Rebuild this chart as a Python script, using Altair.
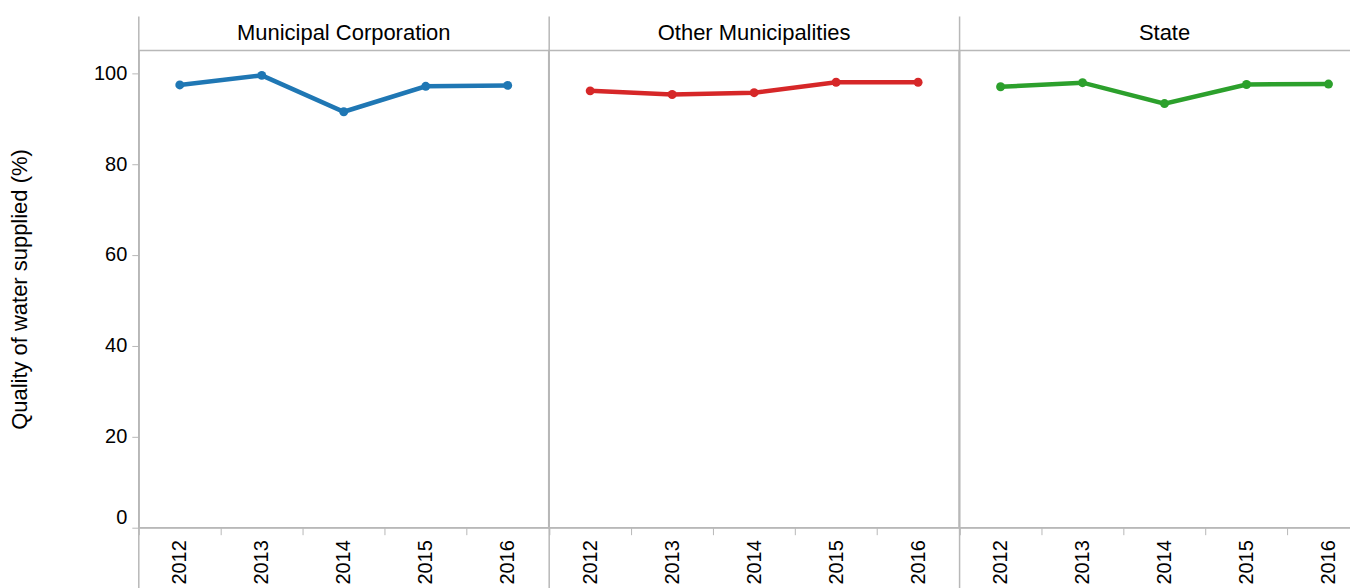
import altair as alt
import pandas as pd

years = [2012, 2013, 2014, 2015, 2016]
categories = ["Municipal Corporation", "Other Municipalities", "State"]
mc = [97.4, 99.5, 91.5, 97.1, 97.3]
om = [96.1, 95.3, 95.7, 98.0, 98.0]
st = [97.0, 97.9, 93.3, 97.5, 97.6]
colors = ["#1f77b4", "#d62728", "#2ca02c"]

rows = []
for cat, vals in zip(categories, [mc, om, st]):
    for y, v in zip(years, vals):
        rows.append({"category": cat, "year": str(y), "value": v})
df = pd.DataFrame(rows)

FONT = "Liberation Sans"
W = 410.5
H = 478
GRAY = "#b8b8b8"

base = alt.Chart().encode(
    x=alt.X("year:O", title=None,
            scale=alt.Scale(paddingInner=0, paddingOuter=0),
            axis=alt.Axis(labelAngle=270, tickBand="extent", labelFontSize=20,
                          labelFont=FONT, labelColor="#000", tickColor=GRAY,
                          domainColor=GRAY, tickSize=7, labelPadding=5,
                          labelBaseline="middle", labelAlign="right")),
    y=alt.Y("value:Q", title="Quality of water supplied (%)",
            scale=alt.Scale(domain=[0, 105], nice=False),
            axis=alt.Axis(values=[0, 20, 40, 60, 80, 100], grid=False,
                          labelFlush=True, labelFontSize=20, labelFont=FONT,
                          labelColor="#000", tickColor=GRAY, domainColor=GRAY,
                          tickSize=7, labelPadding=5, titleFont=FONT,
                          titleFontSize=22, titleFontWeight="normal",
                          titleColor="#000", titlePadding=62)),
    color=alt.Color("category:N", legend=None,
                    scale=alt.Scale(domain=categories, range=colors)),
)

line = base.mark_line(strokeWidth=4.5)
pts = base.mark_circle(size=80, opacity=1)
sep = alt.Chart().mark_rule(color=GRAY, strokeWidth=1.5).encode(
    x=alt.value(0), y=alt.value(-34), y2=alt.value(H + 100)
).transform_filter(alt.datum.year == "2012")

chart = alt.layer(line, pts, sep, data=df).properties(
    width=W, height=H
).facet(
    column=alt.Column("category:N", title=None, sort=categories,
                      header=alt.Header(labelFontSize=22, labelFont=FONT,
                                        labelColor="#000", labelPadding=5)),
    spacing=0,
    bounds="flush",
).properties(
    padding={"left": 0, "top": 6, "right": -21, "bottom": 0}
).configure_view(stroke=GRAY, strokeWidth=1.5)

chart.save("out.html", embed_options={"renderer": "svg", "actions": False})
